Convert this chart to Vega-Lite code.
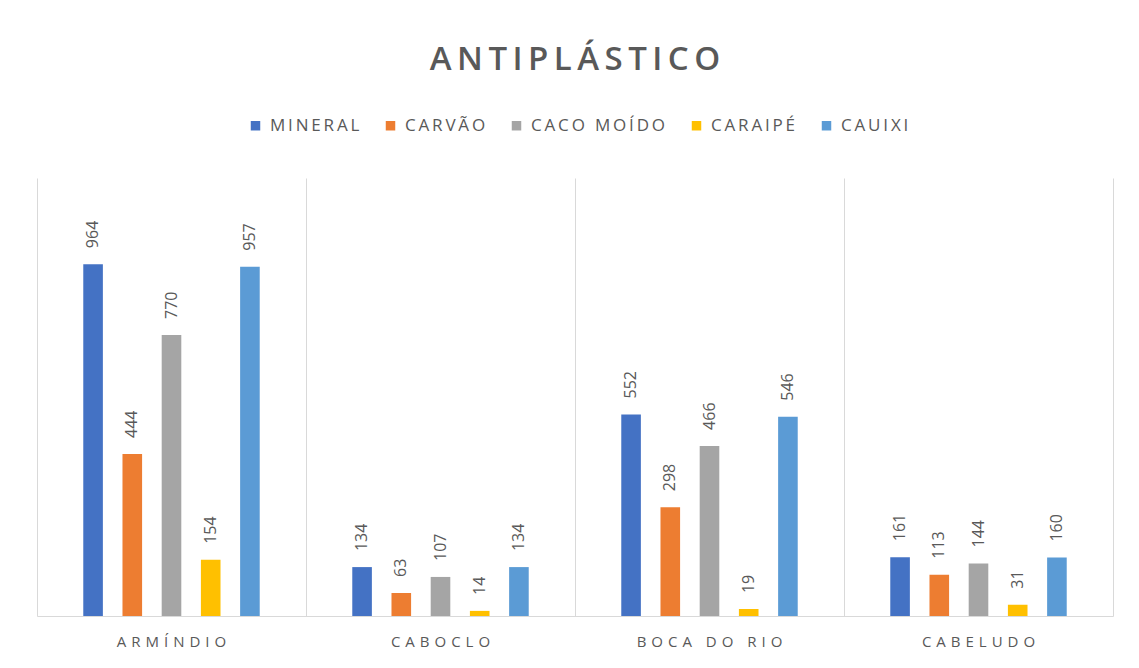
{
  "$schema": "https://vega.github.io/schema/vega-lite/v6.json",
  "autosize": "none",
  "width": 1076,
  "height": 438,
  "padding": {"left": 37, "top": 178, "right": 26, "bottom": 52},
  "background": "white",
  "config": {"view": {"stroke": null}, "font": "Open Sans"},
  "title": {
    "text": "A\u2009N\u2009T\u2009I\u2009P\u2009L\u2009Á\u2009S\u2009T\u2009I\u2009C\u2009O",
    "font": "Open Sans",
    "fontSize": 33,
    "fontWeight": 600,
    "color": "#595959",
    "anchor": "middle",
    "frame": "group",
    "offset": 40
  },
  "data": {
    "values": [
      {"site": "ARMÍNDIO", "material": "MINERAL", "value": 964},
      {"site": "ARMÍNDIO", "material": "CARVÃO", "value": 444},
      {"site": "ARMÍNDIO", "material": "CACO MOÍDO", "value": 770},
      {"site": "ARMÍNDIO", "material": "CARAIPÉ", "value": 154},
      {"site": "ARMÍNDIO", "material": "CAUIXI", "value": 957},
      {"site": "CABOCLO", "material": "MINERAL", "value": 134},
      {"site": "CABOCLO", "material": "CARVÃO", "value": 63},
      {"site": "CABOCLO", "material": "CACO MOÍDO", "value": 107},
      {"site": "CABOCLO", "material": "CARAIPÉ", "value": 14},
      {"site": "CABOCLO", "material": "CAUIXI", "value": 134},
      {"site": "BOCA DO RIO", "material": "MINERAL", "value": 552},
      {"site": "BOCA DO RIO", "material": "CARVÃO", "value": 298},
      {"site": "BOCA DO RIO", "material": "CACO MOÍDO", "value": 466},
      {"site": "BOCA DO RIO", "material": "CARAIPÉ", "value": 19},
      {"site": "BOCA DO RIO", "material": "CAUIXI", "value": 546},
      {"site": "CABELUDO", "material": "MINERAL", "value": 161},
      {"site": "CABELUDO", "material": "CARVÃO", "value": 113},
      {"site": "CABELUDO", "material": "CACO MOÍDO", "value": 144},
      {"site": "CABELUDO", "material": "CARAIPÉ", "value": 31},
      {"site": "CABELUDO", "material": "CAUIXI", "value": 160}
    ]
  },
  "encoding": {
    "x": {
      "field": "site",
      "type": "nominal",
      "sort": ["ARMÍNDIO", "CABOCLO", "BOCA DO RIO", "CABELUDO"],
      "scale": {"paddingInner": 0, "paddingOuter": 0},
      "axis": {
        "title": null,
        "bandPosition": 0,
        "labelAngle": 0,
        "labelFont": "Open Sans",
        "labelFontSize": 15,
        "labelColor": "#595959",
        "labelPadding": 18,
        "labelExpr": "join(split(datum.label, ''), '\u2004')",
        "ticks": false,
        "domainColor": "#d9d9d9",
        "grid": true,
        "gridColor": "#d9d9d9"
      }
    },
    "xOffset": {
      "field": "material",
      "type": "nominal",
      "scale": {
        "domain": ["_start", "MINERAL", "CARVÃO", "CACO MOÍDO", "CARAIPÉ", "CAUIXI", "_end"],
        "paddingInner": 0.5,
        "paddingOuter": 0.18
      }
    },
    "y": {
      "field": "value",
      "type": "quantitative",
      "scale": {"domain": [0, 1200], "nice": false},
      "axis": {
        "orient": "right",
        "title": null,
        "labels": false,
        "ticks": false,
        "grid": false,
        "domain": true,
        "domainColor": "#d9d9d9"
      }
    }
  },
  "layer": [
    {
      "mark": {"type": "bar"},
      "encoding": {
        "color": {
          "field": "material",
          "type": "nominal",
          "sort": ["MINERAL", "CARVÃO", "CACO MOÍDO", "CARAIPÉ", "CAUIXI"],
          "scale": {
            "domain": ["MINERAL", "CARVÃO", "CACO MOÍDO", "CARAIPÉ", "CAUIXI"],
            "range": ["#4472C4", "#ED7D31", "#A5A5A5", "#FFC000", "#5B9BD5"]
          },
          "legend": {
            "title": null,
            "orient": "none",
            "direction": "horizontal",
            "legendX": 210,
            "legendY": -61,
            "symbolType": "square",
            "symbolSize": 90,
            "symbolStrokeWidth": 0,
            "labelFont": "Open Sans",
            "labelFontSize": 17,
            "labelColor": "#595959",
            "labelOffset": 6,
            "labelExpr": "join(split(datum.label, ''), '\u2009')",
            "columnPadding": 22
          }
        }
      }
    },
    {
      "mark": {
        "type": "text",
        "angle": 270,
        "align": "left",
        "baseline": "middle",
        "dx": 16,
        "font": "Open Sans",
        "fontSize": 16,
        "color": "#595959"
      },
      "encoding": {
        "text": {"field": "value", "type": "quantitative"}
      }
    }
  ]
}
